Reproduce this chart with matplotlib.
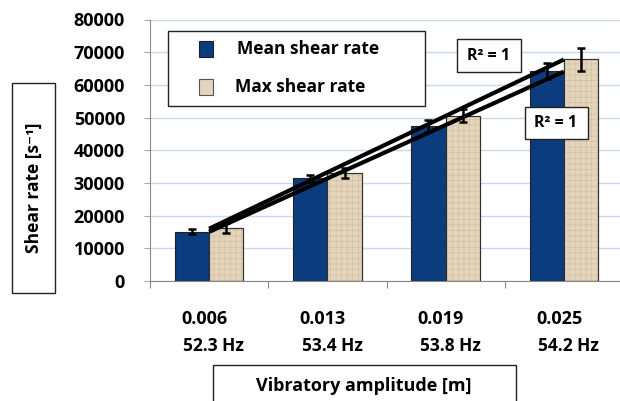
import numpy as np
import matplotlib.pyplot as plt
from matplotlib.patches import Rectangle

plt.rcParams['font.family'] = ['Open Sans', 'DejaVu Sans']
plt.rcParams['font.weight'] = 'bold'

# data
amplitude = ['0.006', '0.013', '0.019', '0.025']
freq = ['52.3 Hz', '53.4 Hz', '53.8 Hz', '54.2 Hz']
mean_rate = [15100, 31400, 47500, 64200]
max_rate = [16100, 33100, 50500, 67800]
mean_err = [800, 1000, 1800, 2500]
max_err = [1500, 1500, 2000, 3500]

W, H = 620, 401
fig = plt.figure(figsize=(6.2, 4.01), dpi=100)
ax = fig.add_axes([150/W, 120/H, 473/W, 261.5/H])

def fbox(x0, y0, x1, y1):
    # box given in pixel coords from top-left
    fig.patches.append(Rectangle((x0/W, 1 - y1/H), (x1-x0)/W, (y1-y0)/H, transform=fig.transFigure,
                                 facecolor='white', edgecolor='#222222', lw=1, zorder=5))

x = np.arange(len(amplitude))
w = 0.29
blue = '#0b3c7d'
beige = '#e4d4bb'

ax.bar(x - w/2, mean_rate, w, color=blue, edgecolor='#222222', linewidth=0.8, zorder=2)
ax.bar(x + w/2, max_rate, w, color=beige, edgecolor='#333333', linewidth=0.8, zorder=2)
plt.rcParams['hatch.linewidth'] = 0.4
ax.bar(x + w/2, max_rate, w, color='none', edgecolor='#cdbd9f', linewidth=0, hatch='+++', zorder=2)
ax.bar(x + w/2, max_rate, w, color='none', edgecolor='#333333', linewidth=0.8, zorder=2)

ax.errorbar(x - w/2, mean_rate, yerr=mean_err, fmt='none', ecolor='black', elinewidth=1.8, capsize=3, capthick=1.8, zorder=3)
ax.errorbar(x + w/2, max_rate, yerr=max_err, fmt='none', ecolor='black', elinewidth=1.8, capsize=3, capthick=1.8, zorder=3)

# linear trend lines
for vals in (mean_rate, max_rate):
    p = np.polyfit(x, vals, 1)
    ax.plot([x[0], x[-1]], np.polyval(p, [x[0], x[-1]]), color='black', lw=3, zorder=4, solid_capstyle='butt')

ax.set_xlim(-0.5, 3.5)
ax.set_ylim(0, 80000)
ax.set_yticks(np.arange(0, 80001, 10000))
ax.yaxis.grid(True, color='#c6d9f0', lw=1)
ax.set_axisbelow(True)
ax.tick_params(axis='y', labelsize=13, length=4, color='#aaaaaa', pad=14)
ax.set_xticks(np.arange(-0.5, 3.6, 1))
ax.set_xticklabels([])
ax.tick_params(axis='x', length=5, color='#888888')
for s in ['top', 'right']:
    ax.spines[s].set_visible(False)
for s in ['left', 'bottom']:
    ax.spines[s].set_color('#888888')

for i in range(len(amplitude)):
    ax.text(i - 0.04, -11500, amplitude[i], ha='center', va='center', fontsize=13, fontweight='bold')
    ax.text(i + 0.04, -19800, freq[i], ha='center', va='center', fontsize=12.5, fontweight='bold')

# legend drawn by hand
fbox(168, 31, 425, 106)
fig.patches.append(Rectangle((199/W, 1 - 57/H), 14/W, 16/H, transform=fig.transFigure,
                             facecolor=blue, edgecolor='#222222', lw=0.8, zorder=6))
fig.patches.append(Rectangle((199/W, 1 - 95/H), 14/W, 16/H, transform=fig.transFigure,
                             facecolor=beige, edgecolor='#555555', lw=0.8, zorder=6))
fig.text(237/W, 1 - 49/H, 'Mean shear rate', ha='left', va='center', fontsize=12.5, zorder=7)
fig.text(235/W, 1 - 87/H, 'Max shear rate', ha='left', va='center', fontsize=12.5, zorder=7)

# R^2 boxes
fbox(457, 39, 521, 72)
fig.text(489/W, 1 - 56/H, 'R² = 1', ha='center', va='center', fontsize=11.5, zorder=7)
fbox(525, 107, 588, 139)
fig.text(556/W, 1 - 123/H, 'R² = 1', ha='center', va='center', fontsize=11.5, zorder=7)

# axis titles in boxes
fbox(12, 83, 55, 293)
fig.text(34/W, 1 - 188/H, 'Shear rate [s⁻¹]', rotation=90, ha='center', va='center',
         fontsize=12.5, zorder=7)
fbox(213, 365, 516, 410)
fig.text(364/W, 1 - 386/H, 'Vibratory amplitude [m]', ha='center', va='center', fontsize=13, zorder=7)

fig.savefig('out.png', dpi=100)
